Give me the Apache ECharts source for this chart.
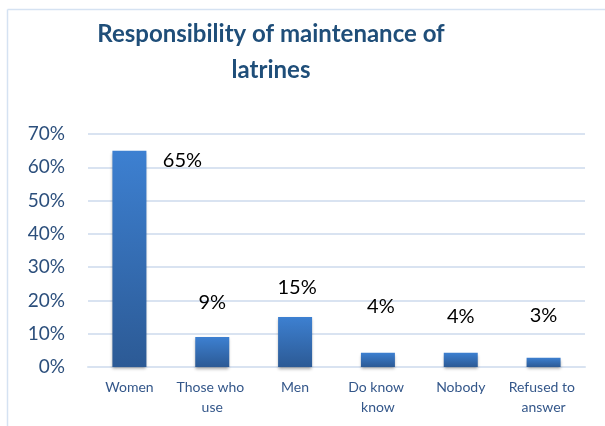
<!DOCTYPE html>
<html>
<head>
<meta charset="utf-8">
<script src="https://cdn.jsdelivr.net/npm/echarts@6/dist/echarts.min.js"></script>
<style>
html,body{margin:0;padding:0;background:#fff;}
#chart{width:605px;height:426px;}
</style>
</head>
<body>
<div id="chart"></div>
<script>
var titleText = "Responsibility of maintenance of\nlatrines";
var categories = ["Women", "Those who use", "Men", "Do know know", "Nobody", "Refused to answer"];
var values = [0.65, 0.09, 0.15, 0.043, 0.043, 0.028];
var labelTexts = ["65%", "9%", "15%", "4%", "4%", "3%"];
var yTicks = [0, 0.1, 0.2, 0.3, 0.4, 0.5, 0.6, 0.7];

// label placement offsets (style, not data)
var labelOffsets = [[53, 25], [0, -19], [2, -15], [3, -31], [0, -21], [0, -27]];

var chart = echarts.init(document.getElementById('chart'), null, {renderer: 'canvas'});
var barGradient = new echarts.graphic.LinearGradient(0, 0, 0, 1, [
  {offset: 0, color: '#3d80d1'},
  {offset: 1, color: '#2c5a95'}
]);
var option = {
  animation: false,
  backgroundColor: '#ffffff',
  title: {
    text: titleText,
    left: 266,
    top: 11,
    textAlign: 'center',
    textStyle: {
      fontFamily: 'Lato, "Liberation Sans", sans-serif',
      fontWeight: 'bold',
      fontSize: 24,
      lineHeight: 36,
      color: '#1f4e79'
    }
  },
  graphic: [
    {type: 'line', shape: {x1: 7.5, y1: 9.5, x2: 7.5, y2: 426}, style: {stroke: '#d5e2f2', lineWidth: 1.5}, silent: true},
    {type: 'line', shape: {x1: 7.5, y1: 9.5, x2: 605, y2: 9.5}, style: {stroke: '#d5e2f2', lineWidth: 1.5}, silent: true}
  ],
  grid: {left: 88, right: 20, top: 134, bottom: 59, containLabel: false},
  xAxis: {
    type: 'category',
    data: categories,
    axisTick: {show: false},
    axisLine: {show: true, lineStyle: {color: '#d9e3f1', width: 2}},
    axisLabel: {
      interval: 0,
      margin: 10,
      width: 80,
      overflow: 'break',
      fontFamily: 'Lato, "Liberation Sans", sans-serif',
      fontSize: 14,
      lineHeight: 20,
      color: '#34578a'
    }
  },
  yAxis: {
    type: 'value',
    min: 0,
    max: 0.7,
    interval: 0.1,
    axisLine: {show: false},
    axisTick: {show: false},
    splitLine: {lineStyle: {color: '#d9e3f1', width: 2}},
    axisLabel: {
      margin: 23,
      fontFamily: 'Lato, "Liberation Sans", sans-serif',
      fontSize: 19,
      color: '#2c4f7c',
      formatter: function (v) {
        return Math.round(v * 100) + '%';
      }
    }
  },
  series: [{
    type: 'bar',
    barWidth: 34,
    data: values.map(function (v, i) {
      return {
        value: v,
        label: {offset: labelOffsets[i]}
      };
    }),
    itemStyle: {
      color: barGradient,
      shadowColor: 'rgba(0,0,0,0.35)',
      shadowBlur: 3,
      shadowOffsetY: 2
    },
    label: {
      show: true,
      position: 'top',
      distance: 5,
      fontFamily: 'Lato, "Liberation Sans", sans-serif',
      fontSize: 20,
      color: '#000000',
      formatter: function (p) { return labelTexts[p.dataIndex]; }
    }
  }]
};
chart.setOption(option);
</script>
</body>
</html>
